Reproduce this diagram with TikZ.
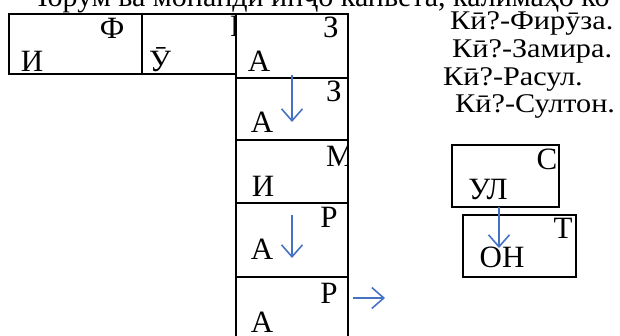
\documentclass[tikz,border=0pt]{standalone}
\usepackage{fontspec}
\setmainfont{Liberation Serif}
\usetikzlibrary{arrows.meta, positioning}
\definecolor{arrowblue}{RGB}{68,114,196}

\begin{document}
\begin{tikzpicture}[x=1pt, y=-1pt,
    cell/.style={draw, line width=2pt, inner sep=0pt},
    big/.style={font=\fontsize{31}{36}\selectfont, inner sep=0pt, anchor=base},
    small/.style={font=\fontsize{27}{30}\selectfont, inner sep=0pt, anchor=base west, xscale=1.12},
    pointer/.style={draw=arrowblue, line width=1.6pt, -{Straight Barb[length=12pt,width=21pt]}}]
  \useasboundingbox (0,0) rectangle (620,336);
  \clip (0,0) rectangle (620,336);
  % line cut off at the top
  \node[big, anchor=base west, font=\fontsize{30}{36}\selectfont] (heading) at (28,7) {Чорум ва монанди инҷо капвета, калимаҳо ко};
  % top table
  \node[cell, minimum width=133pt, minimum height=60pt] (t1) at (75.5,44) {};
  \node[cell, minimum width=94pt, minimum height=60pt] (t2) at (189,44) {};
  \node[big] (t1u) at (112,39) {Ф};
  \node[big] (t1l) at (32,72) {И};
  \node[big] (t2l) at (160,72) {Ӯ};
  \begin{scope}
    \clip (200,10) rectangle (236.5,60);
    \node[big, anchor=base west] (t2u) at (230,37) {Р};
  \end{scope}
  % column of cells
  \node[cell, minimum width=112pt, minimum height=64pt] (c1) at (292,46) {};
  \node[cell, minimum width=112pt, minimum height=62pt] (c2) at (292,109) {};
  \node[cell, minimum width=112pt, minimum height=63pt] (c3) at (292,171.5) {};
  \node[cell, minimum width=112pt, minimum height=74pt] (c4) at (292,240) {};
  \node[cell, minimum width=112pt, minimum height=68pt] (c5) at (292,311) {};
  \node[big] (c1u) at (331,38) {З};
  \node[big] (c1l) at (259,72) {А};
  \node[big] (c2u) at (334,102) {З};
  \node[big] (c2l) at (262,133) {А};
  \begin{scope}
    \clip (300,140) rectangle (348,203);
    \node[big] (c3u) at (340,167) {М};
  \end{scope}
  \node[big] (c3l) at (263,197) {И};
  \node[big] (c4u) at (329,228) {Р};
  \node[big] (c4l) at (262,260) {А};
  \node[big] (c5u) at (329,303) {Р};
  \node[big] (c5l) at (262,332) {А};
  % two boxes on the right
  \node[cell, minimum width=107pt, minimum height=62pt] (b1) at (505,176) {};
  \node[cell, minimum width=113pt, minimum height=62pt] (b2) at (519.5,246) {};
  \node[big] (b1u) at (547,170) {С};
  \node[big] (b1l) at (488,200) {УЛ};
  \node[big] (b2u) at (563,239) {Т};
  \node[big] (b2l) at (502,268) {ОН};
  % questions
  \node[small] (q1) at (450,30) {Кӣ?-Фирӯза.};
  \node[small] (q2) at (452,58) {Кӣ?-Замира.};
  \node[small] (q3) at (443,86) {Кӣ?-Расул.};
  \node[small] (q4) at (455,113) {Кӣ?-Султон.};
  % arrows
  \coordinate (a1s) at (292,75);
  \coordinate (a1e) at (292,122);
  \coordinate (a2s) at (292,215);
  \coordinate (a2e) at (292,258);
  \coordinate (a3s) at (353,298);
  \coordinate (a3e) at (385,298);
  \coordinate (a4s) at (499,207);
  \coordinate (a4e) at (499,248);
  \draw[pointer] (a1s) -- (a1e);
  \draw[pointer] (a2s) -- (a2e);
  \draw[pointer] (a3s) -- (a3e);
  \draw[pointer] (a4s) -- (a4e);
\end{tikzpicture}
\end{document}
